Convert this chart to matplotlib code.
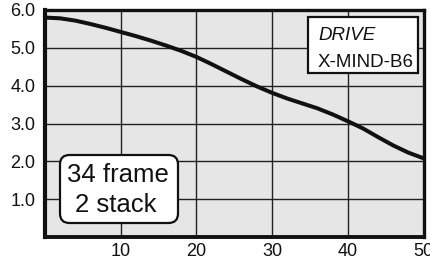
import matplotlib
matplotlib.use("Agg")
import matplotlib.pyplot as plt
from matplotlib.patches import Rectangle, FancyBboxPatch

plt.rcParams['font.family'] = ['Liberation Sans', 'DejaVu Sans']

# Data
x_vals = [0, 2, 4, 6, 8, 10, 12, 14, 16, 18, 20, 22, 24, 26, 28, 30,
          32, 34, 36, 38, 40, 42, 44, 46, 48, 50]
y_vals = [5.80, 5.78, 5.72, 5.63, 5.53, 5.42, 5.31, 5.19, 5.06, 4.92,
          4.76, 4.57, 4.37, 4.17, 3.98, 3.81, 3.66, 3.53, 3.40, 3.24,
          3.06, 2.87, 2.64, 2.42, 2.23, 2.08]
x_ticks = [10, 20, 30, 40, 50]
y_ticks = [1.0, 2.0, 3.0, 4.0, 5.0, 6.0]
y_tick_labels = ["1.0", "2.0", "3.0", "4.0", "5.0", "6.0"]
drive_title = "DRIVE"
drive_name = "X-MIND-B6"
config_lines = ["34 frame", "2 stack"]

W, H = 430, 259
fig = plt.figure(figsize=(W / 100, H / 100), dpi=100)


def fx(px):
    return px / W


def fy(py):
    return 1 - py / H


left, right, top, bottom = 45, 423.5, 10, 237
ax = fig.add_axes([fx(left), fy(bottom), fx(right) - fx(left), fy(top) - fy(bottom)])
ax.set_facecolor('#e6e6e6')
ax.plot(x_vals, y_vals, color='#111111', lw=2.9, solid_capstyle='butt',
        solid_joinstyle='round', zorder=3)
ax.set_xlim(0, 50)
ax.set_ylim(0, 6)
ax.set_xticks(x_ticks)
ax.set_xticklabels([str(t) for t in x_ticks])
ax.set_yticks(y_ticks)
ax.set_yticklabels(y_tick_labels)
ax.tick_params(axis='both', length=0, labelsize=13, colors='#111111')
ax.tick_params(axis='x', pad=4)
ax.tick_params(axis='y', pad=7)
ax.grid(True, color='#222222', lw=1.0)
ax.set_axisbelow(True)
for s in ax.spines.values():
    s.set_linewidth(2.4)
    s.set_color('#111111')
ax.spines['left'].set_linewidth(3.0)
ax.spines['bottom'].set_linewidth(2.8)

# DRIVE box
bx0, by0, bx1, by1 = 308, 17, 418, 73
fig.patches.append(Rectangle((fx(bx0), fy(by1)), fx(bx1) - fx(bx0), fy(by0) - fy(by1),
                             transform=fig.transFigure, facecolor='white',
                             edgecolor='#111111', lw=1.6, zorder=5))
fig.text(fx(318), fy(40), drive_title, fontsize=13.5, style='italic',
         ha='left', va='baseline', color='#111111', zorder=6)
fig.text(fx(318), fy(67), drive_name, fontsize=13.5,
         ha='left', va='baseline', color='#111111', zorder=6)

# config box
cx0, cy0, cx1, cy1 = 60, 155, 178, 223
fig.patches.append(FancyBboxPatch((fx(cx0), fy(cy1)), fx(cx1) - fx(cx0), fy(cy0) - fy(cy1),
                                  boxstyle="round,pad=0,rounding_size=0.022",
                                  mutation_aspect=W / H,
                                  transform=fig.transFigure, facecolor='white',
                                  edgecolor='#111111', lw=1.6, zorder=5))
fig.text(fx(118), fy(182), config_lines[0], fontsize=18.5,
         ha='center', va='baseline', color='#111111', zorder=6)
fig.text(fx(116), fy(212), config_lines[1], fontsize=18.5,
         ha='center', va='baseline', color='#111111', zorder=6)

fig.savefig("out.png", dpi=100)
